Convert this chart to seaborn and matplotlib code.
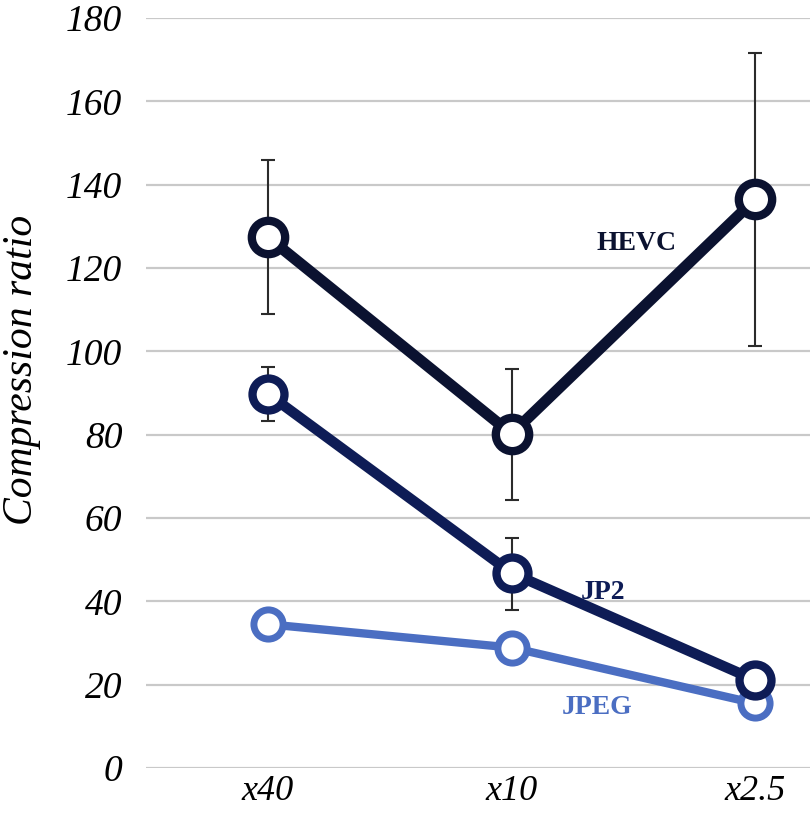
import matplotlib
matplotlib.use("Agg")
import matplotlib.pyplot as plt
import seaborn as sns
import pandas as pd

categories = ["x40", "x10", "x2.5"]
hevc = [127.4, 80.2, 136.5]
hevc_lo = [109.0, 64.2, 101.3]
hevc_hi = [145.8, 95.8, 171.6]
jp2 = [89.8, 46.8, 21.1]
jp2_lo = [83.3, 37.9, 21.1]
jp2_hi = [96.2, 55.3, 21.1]
jpeg = [34.5, 28.9, 15.5]
series_names = ["HEVC", "JP2", "JPEG"]

colors = {"HEVC": "#0b1230", "JP2": "#0e1c56", "JPEG": "#4b6ec2"}

sns.set_theme(style="white")
plt.rcParams["font.family"] = ["Liberation Serif", "DejaVu Serif"]
plt.rcParams["text.color"] = "black"
plt.rcParams["xtick.color"] = "black"
plt.rcParams["ytick.color"] = "black"

fig = plt.figure(figsize=(8.1, 8.14), dpi=100)
ax = fig.add_axes([146 / 810, 1 - 768 / 814, 1 - 146 / 810, 750 / 814])

df = pd.DataFrame({
    "cat": categories * 3,
    "value": hevc + jp2 + jpeg,
    "series": [s for s in series_names for _ in categories],
})

# grid
for v in range(0, 181, 20):
    ax.axhline(v, color="#c9c9c9", lw=1.6, zorder=0)

# error bars
xs = list(range(len(categories)))
ax.errorbar(xs, hevc, yerr=[[h - l for h, l in zip(hevc, hevc_lo)], [u - h for h, u in zip(hevc, hevc_hi)]],
            fmt="none", ecolor="#2b2b2b", elinewidth=1.5, capsize=5, capthick=1.5, zorder=1)
ax.errorbar(xs, jp2, yerr=[[h - l for h, l in zip(jp2, jp2_lo)], [u - h for h, u in zip(jp2, jp2_hi)]],
            fmt="none", ecolor="#2b2b2b", elinewidth=1.5, capsize=5, capthick=1.5, zorder=1)

styles = {"HEVC": (8, 24, 6), "JP2": (7.5, 23, 6), "JPEG": (6, 21, 5)}
for name in series_names:
    lw, ms, mew = styles[name]
    sns.lineplot(data=df[df["series"] == name], x="cat", y="value", ax=ax, sort=False,
                 color=colors[name], lw=lw, marker="o", markersize=ms,
                 markerfacecolor="white", markeredgecolor=colors[name], markeredgewidth=mew,
                 zorder=3 if name != "JPEG" else 2, legend=False)

ax.set_ylim(0, 180)
ax.set_xlim(-0.5, 2.5 - (877 - 810) / 243.5)
ax.set_yticks(range(0, 181, 20))
ax.set_yticklabels([str(v) for v in range(0, 181, 20)], fontsize=27, fontstyle="italic", color="black")
ax.set_xticks(xs)
ax.set_xticklabels(categories, fontsize=26, fontstyle="italic", color="black")
ax.tick_params(axis="y", length=0, pad=17)
ax.tick_params(axis="x", length=0, pad=5)
ax.set_xlabel("")
ax.set_ylabel("")
for s in ax.spines.values():
    s.set_visible(False)

fig.text(22 / 810, 1 - 370 / 814, "Compression ratio", rotation=90, fontsize=30,
         fontstyle="italic", ha="center", va="center", color="black")

ax.text(1.515, 125.8, "HEVC", fontsize=20, fontweight="bold", color=colors["HEVC"], ha="center", va="center")
ax.text(1.376, 42.2, "JP2", fontsize=20, fontweight="bold", color=colors["JP2"], ha="center", va="center")
ax.text(1.35, 14.6, "JPEG", fontsize=20, fontweight="bold", color=colors["JPEG"], ha="center", va="center")

fig.savefig("out.png", dpi=100)
